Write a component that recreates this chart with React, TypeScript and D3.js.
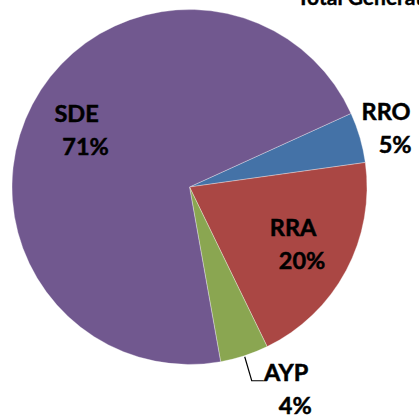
import React, { useEffect, useRef } from 'react';
import * as d3 from 'd3';

// data
const categories = ['RRO', 'RRA', 'AYP', 'SDE'];
const values = [4.6, 20.0, 4.4, 71.0];
const colors = ['#4472A7', '#AA4744', '#8AA651', '#71588F'];
const chartTitle = 'Total Generation';

const App = () => {
  const ref = useRef<SVGSVGElement | null>(null);
  const width = 419;
  const height = 419;

  useEffect(() => {
    const svg = d3.select(ref.current);
    svg.selectAll('*').remove();

    const cx = 189.5;
    const cy = 187;
    const radius = 177.5;
    const startDeg = 65.5; // first slice starts here (clockwise from 12 o'clock)
    const toRad = (d: number) => (d * Math.PI) / 180;

    const total = d3.sum(values);
    const data = categories.map((c, i) => ({ name: c, value: values[i], color: colors[i] }));

    const pie = d3.pie<any>()
      .value(d => d.value)
      .sort(null)
      .startAngle(toRad(startDeg))
      .endAngle(toRad(startDeg + 360));

    const arcs = pie(data);

    const arc = d3.arc<any>().innerRadius(0).outerRadius(radius);
    const insideArc = d3.arc<any>().innerRadius(radius * 0.69).outerRadius(radius * 0.69);
    const outsideArc = d3.arc<any>().innerRadius(radius * 1.18).outerRadius(radius * 1.18);
    const edgeArc = d3.arc<any>().innerRadius(radius + 1).outerRadius(radius + 1);

    const g = svg.append('g').attr('transform', `translate(${cx}, ${cy})`);

    g.selectAll('path.slice')
      .data(arcs)
      .enter().append('path')
      .attr('class', 'slice')
      .attr('d', arc)
      .style('fill', d => d.data.color)
      .style('stroke', 'rgba(255,255,255,0.55)')
      .style('stroke-width', 0.6);

    // label placement: inside / outside / leader line
    const placement: Record<string, string> = { RRO: 'outside', RRA: 'inside', AYP: 'leader', SDE: 'inside' };
    const font = 'Lato, "DejaVu Sans", sans-serif';
    const fs = 23.5;

    const label = (x: number, y: number, txt: string) => {
      g.append('text')
        .attr('x', x)
        .attr('y', y)
        .attr('text-anchor', 'middle')
        .style('font-family', font)
        .style('font-weight', 'bold')
        .style('font-size', `${fs}px`)
        .style('fill', '#000')
        .style('stroke', '#000')
        .style('stroke-width', 0.5)
        .text(txt);
    };

    arcs.forEach(a => {
      const pct = Math.round((a.data.value / total) * 100) + '%';
      const mode = placement[a.data.name];
      let bx = 0;
      let by = 0;
      if (mode === 'inside') {
        [bx, by] = insideArc.centroid(a);
      } else if (mode === 'outside') {
        [bx, by] = outsideArc.centroid(a);
      } else {
        const [ex, ey] = edgeArc.centroid(a);
        const elbow = [ex + 7, ey + 24];
        g.append('path')
          .attr('d', d3.line()([[ex, ey], [elbow[0], elbow[1]], [elbow[0] + 12, elbow[1]]]))
          .style('fill', 'none')
          .style('stroke', '#000')
          .style('stroke-width', 1.2);
        bx = elbow[0] + 39;
        by = elbow[1] + 9;
      }
      label(bx - 4.5, by - 8.5, a.data.name);
      label(bx + 4.5, by + 24.5, pct);
    });

    // title, mostly cut off at the top edge
    svg.append('text')
      .attr('x', 297)
      .attr('y', 5)
      .style('font-family', font)
      .style('font-weight', 'bold')
      .style('font-size', '21px')
      .style('fill', '#000')
      .style('stroke', '#000')
      .style('stroke-width', 0.4)
      .text(chartTitle);
  }, []);

  return (
    <svg
      ref={ref}
      width={width}
      height={height}
      style={{ position: 'fixed', left: 0, top: 0, background: '#fff' }}
    />
  );
};

export default App;
